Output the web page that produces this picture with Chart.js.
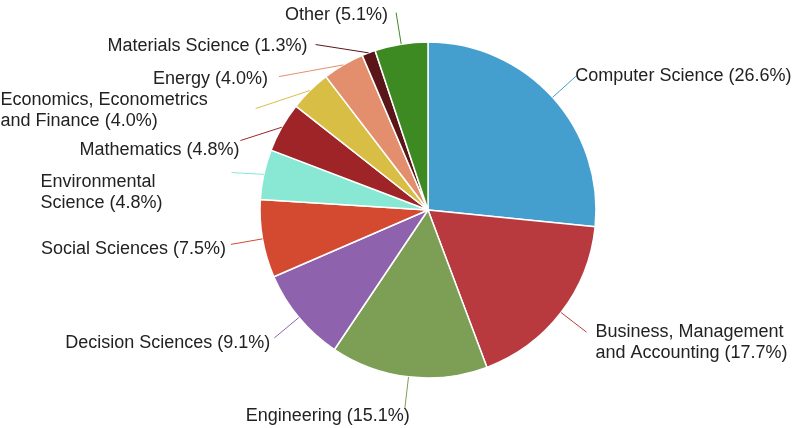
<!DOCTYPE html>
<html>
<head>
<meta charset="utf-8">
<script src="https://cdn.jsdelivr.net/npm/chart.js@4"></script>
<style>
  html, body { margin: 0; padding: 0; background: #fff; }
  #wrap { width: 796px; height: 428px; position: relative; }
</style>
</head>
<body>
<div id="wrap"><canvas id="pieChart" width="796" height="428"></canvas></div>
<script>
var categories = ['Computer Science', 'Business, Management and Accounting', 'Engineering', 'Decision Sciences',
  'Social Sciences', 'Environmental Science', 'Mathematics', 'Economics, Econometrics and Finance',
  'Energy', 'Materials Science', 'Other'];
var shares = [26.6, 17.7, 15.1, 9.1, 7.5, 4.8, 4.8, 4.0, 4.0, 1.3, 5.1];
var sliceColors = ['#449fcf', '#b8393e', '#7d9e55', '#8f62ae', '#d34a31', '#88e8d4',
  '#9e2427', '#d9be45', '#e38f6d', '#5a1519', '#3e8a22'];

// where long names break onto a second line
var wrapAfter = {
  'Business, Management and Accounting': 'Business, Management',
  'Economics, Econometrics and Finance': 'Economics, Econometrics',
  'Environmental Science': 'Environmental'
};

// small hand nudges for label text (px)
var nudge = {
  0: {dx: -4, dy: 0}, 1: {dx: 6, dy: 0}, 2: {dx: 9, dy: 5}, 3: {dx: 0, dy: 3},
  4: {dx: -1, dy: 3}, 5: {dx: -65, dy: 18, block: true}, 6: {dx: 3, dy: 7},
  7: {dx: -44, dy: 0, block: true}, 8: {dx: -7, dy: 0}, 9: {dx: -4, dy: -1}, 10: {dx: -4, dy: 0}
};

function labelLines(i) {
  var name = categories[i];
  var pct = '(' + shares[i].toFixed(1) + '%)';
  if (wrapAfter[name]) {
    return [wrapAfter[name], name.slice(wrapAfter[name].length + 1) + ' ' + pct];
  }
  return [name + ' ' + pct];
}

var outLabels = {
  id: 'outLabels',
  afterDatasetsDraw: function(chart) {
    var ctx = chart.ctx;
    var meta = chart.getDatasetMeta(0);
    var items = meta.data.map(function(arc, i) {
      var p = arc.getProps(['x', 'y', 'startAngle', 'endAngle', 'outerRadius'], true);
      var mid = (p.startAngle + p.endAngle) / 2;
      var c = Math.cos(mid), s = Math.sin(mid);
      var lr = p.outerRadius + 32;
      return {
        i: i, cx: p.x, cy: p.y, lr: lr,
        sx: p.x + c * p.outerRadius, sy: p.y + s * p.outerRadius,
        ex: p.x + c * lr, ey: p.y + s * lr, left: c < 0
      };
    });

    // push crowded left labels downward, keeping ends on the outer ring
    var left = items.filter(function(d) { return d.left; }).sort(function(a, b) { return a.ey - b.ey; });
    for (var k = 1; k < left.length; k++) {
      var prev = left[k - 1], d = left[k];
      if (d.ey < prev.ey + 32) {
        d.ey = prev.ey + 32;
        var dy = d.ey - d.cy;
        d.ex = d.cx - Math.sqrt(Math.max(d.lr * d.lr - dy * dy, 0));
      }
    }

    ctx.save();
    ctx.font = '18px "Liberation Sans", Arial, sans-serif';
    ctx.textBaseline = 'middle';
    var lh = 21;
    items.forEach(function(d) {
      ctx.strokeStyle = sliceColors[d.i];
      ctx.lineWidth = 1;
      ctx.beginPath();
      ctx.moveTo(d.sx, d.sy);
      ctx.lineTo(d.ex, d.ey);
      ctx.stroke();

      var lines = labelLines(d.i);
      var n = nudge[d.i] || {dx: 0, dy: 0};
      ctx.fillStyle = '#222';
      if (d.left) {
        var y0 = d.ey + 2 + n.dy - (lines.length - 1) * lh / 2;
        if (n.block) {
          var w = Math.max.apply(null, lines.map(function(t) { return ctx.measureText(t).width; }));
          var bx = d.ex - 4 - w + n.dx;
          ctx.textAlign = 'left';
          lines.forEach(function(t, j) { ctx.fillText(t, bx, y0 + j * lh); });
        } else {
          ctx.textAlign = 'right';
          lines.forEach(function(t, j) { ctx.fillText(t, d.ex - 4 + n.dx, y0 + j * lh); });
        }
      } else {
        ctx.textAlign = 'left';
        lines.forEach(function(t, j) { ctx.fillText(t, d.ex + 3 + n.dx, d.ey + n.dy + j * lh); });
      }
    });
    ctx.restore();
  }
};

var pie = document.getElementById('pieChart').getContext('2d');
var myChart = new Chart(pie, {
  type: 'pie',
  data: {
    labels: categories,
    datasets: [{
      data: shares,
      backgroundColor: sliceColors,
      borderColor: '#ffffff',
      borderWidth: 1.5
    }]
  },
  options: {
    responsive: false,
    animation: false,
    radius: 168,
    layout: { padding: { left: 260, right: 200, top: 42, bottom: 50 } },
    plugins: {
      legend: { display: false },
      tooltip: { enabled: false }
    }
  },
  plugins: [outLabels]
});
</script>
</body>
</html>
